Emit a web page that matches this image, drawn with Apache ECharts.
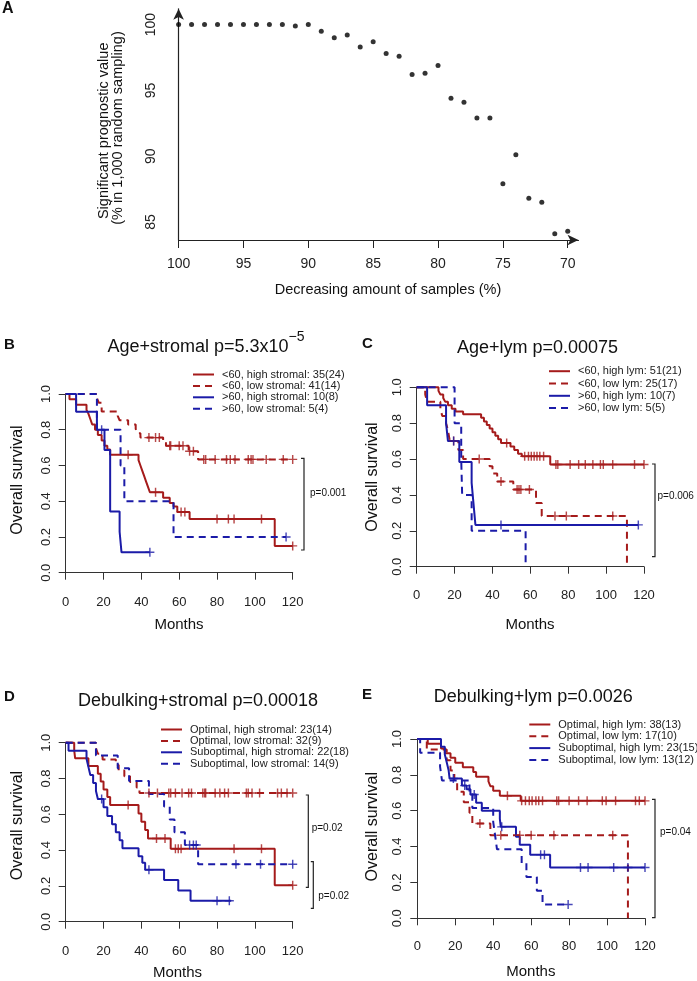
<!DOCTYPE html>
<html><head><meta charset="utf-8">
<script src="https://cdn.jsdelivr.net/npm/echarts@6/dist/echarts.min.js"></script>
<style>html,body{margin:0;padding:0;background:#fff}#c{width:697px;height:981px}</style>
</head><body><div id="c"></div><script>
// ---------- Panel A data ----------
const aSampleAmount = [100,99,98,97,96,95,94,93,92,91,90,89,88,87,86,85,84,83,82,81,80,79,78,77,76,75,74,73,72,71,70];
const aPrognosticValue = [100,100,100,100,100,100,100,100,100,99.9,100,99.5,99.0,99.2,98.3,98.7,97.8,97.6,96.2,96.3,96.9,94.4,94.1,92.9,92.9,87.9,90.1,86.8,86.5,84.1,84.3];
const aXTicks = [100,95,90,85,80,75,70];
const aYTicks = [85,90,95,100];

// ---------- KM axes ----------
const kmMonthTicks = [0,20,40,60,80,100,120];
const kmSurvTicks = [0,0.2,0.4,0.6,0.8,1.0];

// ---------- Panel B: Age + stromal ----------
const bNames = ['<60, high stromal: 35(24)','<60, low stromal: 41(14)','>60, high stromal: 10(8)','>60, low stromal: 5(4)'];
const bYoungHigh = [[0,1],[2,0.97],[5.5,0.94],[11,0.91],[12,0.89],[13,0.86],[14,0.83],[15.5,0.80],[17,0.77],[19,0.74],[20.5,0.71],[22,0.69],[23.5,0.66],[38.5,0.63],[39.5,0.60],[40.5,0.57],[41.5,0.54],[42.5,0.51],[43.5,0.48],[44.5,0.45],[51.5,0.42],[55,0.39],[57,0.37],[59,0.34],[65.5,0.30],[110.5,0.15],[120,0.15]];
const bYoungHighCens = [[33,0.66],[47.5,0.45],[61,0.34],[63,0.34],[80,0.30],[86,0.30],[89,0.30],[103.5,0.30],[120,0.15]];
const bYoungLow = [[0,1],[16.5,0.976],[17.5,0.951],[19,0.902],[27.5,0.878],[28.5,0.853],[33,0.829],[37,0.805],[38,0.78],[39.5,0.756],[51.5,0.73],[53,0.71],[65,0.68],[70,0.634],[120,0.634]];
const bYoungLowCens = [[44,0.756],[47.5,0.756],[49.5,0.756],[55,0.71],[55.5,0.71],[60,0.71],[62,0.71],[65.5,0.68],[67.5,0.68],[73,0.634],[74,0.634],[79,0.634],[85,0.634],[87,0.634],[89.5,0.634],[96.5,0.634],[98,0.634],[99,0.634],[106,0.634],[115,0.634],[120,0.634]];
const bOldHigh = [[0,1],[5.5,0.9],[16.5,0.8],[20.5,0.686],[23.5,0.343],[28.5,0.229],[29.5,0.114],[44.5,0.114]];
const bOldHighCens = [[19,0.8],[44.5,0.114]];
const bOldLow = [[0,1],[16.5,0.8],[29,0.6],[31,0.4],[57,0.2],[116.5,0.2]];
const bOldLowCens = [[116.5,0.2]];

// ---------- Panel C: Age + lym ----------
const cNames = ['<60, high lym: 51(21)','<60, low lym: 25(17)','>60, high lym: 10(7)','>60, low lym: 5(5)'];
const cYoungHigh = [[0,1],[11.5,0.98],[12.5,0.96],[14,0.94],[15,0.92],[16.5,0.90],[18.5,0.88],[20.5,0.865],[24.5,0.85],[34,0.83],[35.5,0.81],[37,0.79],[38.5,0.77],[40,0.75],[41.5,0.73],[43,0.71],[44.5,0.69],[49.5,0.67],[51.5,0.65],[53.5,0.63],[55.5,0.615],[70.5,0.57],[120,0.57]];
const cYoungHighCens = [[47.5,0.69],[57,0.615],[59,0.615],[60.5,0.615],[62,0.615],[63.5,0.615],[65,0.615],[67,0.615],[73.5,0.57],[74.5,0.57],[81,0.57],[85.5,0.57],[89,0.57],[93,0.57],[97,0.57],[98.5,0.57],[103.5,0.57],[115,0.57],[120,0.57]];
const cYoungLow = [[0,1],[4.5,0.96],[5.5,0.92],[12.5,0.88],[13.5,0.84],[15.5,0.80],[16.5,0.76],[17.5,0.70],[22,0.65],[24.5,0.60],[38.5,0.56],[40,0.52],[42.5,0.475],[51,0.43],[63,0.355],[66,0.283],[111,0]];
const cYoungLowCens = [[19.5,0.70],[33,0.60],[44.5,0.475],[53,0.43],[54,0.43],[55,0.43],[59.5,0.43],[73,0.283],[79,0.283],[103.5,0.283]];
const cOldHigh = [[0,1],[5.5,0.9],[15.5,0.8],[16.5,0.7],[22.5,0.583],[29,0.467],[30,0.35],[31,0.233],[117,0.233]];
const cOldHighCens = [[19.5,0.7],[44.5,0.233],[117,0.233]];
const cOldLow = [[0,1],[20,0.8],[23.5,0.6],[24,0.4],[29,0.2],[57.5,0]];
const cOldLowCens = [];

// ---------- Panel D: Debulking + stromal ----------
const dNames = ['Optimal, high stromal: 23(14)','Optimal, low stromal: 32(9)','Suboptimal, high stromal: 22(18)','Suboptimal, low stromal: 14(9)'];
const dOptHigh = [[0,1],[4.5,0.957],[5,0.913],[12,0.87],[17,0.826],[18.5,0.783],[20,0.739],[22,0.696],[23.5,0.652],[38.5,0.605],[40,0.558],[42,0.512],[43.5,0.465],[55.5,0.407],[110.5,0.204],[120,0.204]];
const dOptHighCens = [[33,0.652],[48,0.465],[52.5,0.465],[58,0.407],[59.5,0.407],[61,0.407],[89,0.407],[103.5,0.407],[120,0.204]];
const dOptLow = [[0,1],[16,0.969],[17,0.938],[19.5,0.906],[26.5,0.875],[28,0.844],[31,0.813],[34,0.781],[37.5,0.75],[39,0.719],[120,0.719]];
const dOptLowCens = [[44,0.719],[48.5,0.719],[54.5,0.719],[55.5,0.719],[58,0.719],[61.5,0.719],[65,0.719],[66.5,0.719],[72.5,0.719],[73.5,0.719],[74,0.719],[79,0.719],[81.5,0.719],[84,0.719],[86,0.719],[95.5,0.719],[96.5,0.719],[98.5,0.719],[102.5,0.719],[112,0.719],[114,0.719],[117,0.719],[120,0.719]];
const dSubHigh = [[0,1],[1.5,0.955],[11,0.91],[12,0.865],[13,0.82],[14.5,0.775],[16,0.73],[17,0.685],[20,0.64],[22,0.59],[24.5,0.545],[26.5,0.50],[28.5,0.455],[30,0.41],[38.5,0.365],[40.5,0.33],[42,0.29],[52,0.233],[59.5,0.175],[66,0.117],[87.5,0.117]];
const dSubHighCens = [[19,0.685],[44,0.29],[80,0.117],[86.5,0.117]];
const dSubLow = [[0,1],[16,0.929],[27.5,0.857],[33.5,0.786],[44,0.714],[52,0.643],[55,0.571],[57.5,0.50],[63,0.429],[70,0.321],[120,0.321]];
const dSubLowCens = [[65.5,0.429],[67.5,0.429],[69,0.429],[90,0.321],[103,0.321],[120,0.321]];

// ---------- Panel E: Debulking + lym ----------
const eNames = ['Optimal, high lym: 38(13)','Optimal, low lym: 17(10)','Suboptimal, high lym: 23(15)','Suboptimal, low lym: 13(12)'];
const eOptHigh = [[0,1],[5.5,0.974],[12.5,0.947],[14.5,0.921],[17.5,0.895],[20,0.868],[24,0.842],[29.5,0.816],[31,0.789],[37.5,0.763],[38.5,0.737],[40,0.711],[43.5,0.684],[54.5,0.655],[120,0.655]];
const eOptHighCens = [[47.5,0.684],[55,0.655],[57,0.655],[59,0.655],[60.5,0.655],[62.5,0.655],[64,0.655],[66,0.655],[73.5,0.655],[74.5,0.655],[80,0.655],[85,0.655],[89.5,0.655],[97.5,0.655],[99.5,0.655],[104.5,0.655],[115,0.655],[117,0.655],[120,0.655]];
const eOptLow = [[0,1],[5,0.941],[15.5,0.882],[17.5,0.824],[19.5,0.765],[21,0.706],[24.5,0.647],[27.5,0.588],[29,0.529],[38.5,0.463],[111,0]];
const eOptLowCens = [[33,0.529],[44,0.463],[54,0.463],[60,0.463],[72,0.463],[103,0.463]];
const eSubHigh = [[0,1],[12.5,0.957],[14.5,0.913],[15.5,0.87],[16.5,0.826],[17,0.78],[23.5,0.74],[26,0.72],[28,0.69],[31,0.645],[34,0.60],[43.5,0.555],[44,0.51],[52,0.455],[54,0.41],[59.5,0.355],[70,0.283],[120,0.283]];
const eSubHighCens = [[19,0.78],[25,0.74],[30,0.69],[44.5,0.51],[65,0.355],[67,0.355],[86,0.283],[90,0.283],[103.5,0.283],[111,0.283],[120,0.283]];
const eSubLow = [[0,1],[1.5,0.923],[12,0.846],[13,0.769],[27.5,0.692],[29,0.615],[40,0.538],[41,0.462],[42,0.385],[55,0.308],[57.5,0.231],[63,0.154],[66,0.077],[79.5,0.077]];
const eSubLowCens = [[79.5,0.077]];

// ---------- styling / layout ----------
const RED = '#A51B1B', BLUE = '#1B1BA8', AX = '#333';
const FONT = '"Liberation Sans", Arial, Helvetica, sans-serif';
const PLUS = 'path://M4.2,0H5.8V4.2H10V5.8H5.8V10H4.2V5.8H0V4.2H4.2Z';
const DASH = [7,5];

const panels = [
  {grid:{left:65.7, top:394, width:227, height:178.7}, off:9, legend:{left:192, top:369, gap:0.4}, names:bNames,
   curves:[[bYoungHigh,bYoungHighCens,RED,false],[bYoungLow,bYoungLowCens,RED,true],[bOldHigh,bOldHighCens,BLUE,false],[bOldLow,bOldLowCens,BLUE,true]]},
  {grid:{left:416.7, top:387.3, width:227.3, height:179.4}, off:8.3, legend:{left:548, top:365.7, gap:1.3}, names:cNames,
   curves:[[cYoungHigh,cYoungHighCens,RED,false],[cYoungLow,cYoungLowCens,RED,true],[cOldHigh,cOldHighCens,BLUE,false],[cOldLow,cOldLowCens,BLUE,true]]},
  {grid:{left:65.7, top:742.7, width:227, height:179}, off:9, legend:{left:160, top:724, gap:0.4}, names:dNames,
   curves:[[dOptHigh,dOptHighCens,RED,false],[dOptLow,dOptLowCens,RED,true],[dSubHigh,dSubHighCens,BLUE,false],[dSubLow,dSubLowCens,BLUE,true]]},
  {grid:{left:417.3, top:739, width:227.7, height:179.3}, off:7.7, legend:{left:528.3, top:719, gap:0.8}, names:eNames,
   curves:[[eOptHigh,eOptHighCens,RED,false],[eOptLow,eOptLowCens,RED,true],[eSubHigh,eSubHighCens,BLUE,false],[eSubLow,eSubLowCens,BLUE,true]]}
];

const grids = [{left:178.6, top:8.8, width:399.9, height:231.2}];
const xAxes = [{
  gridIndex:0, type:'value', inverse:true, min:69.17, max:100,
  axisLine:{show:true, symbol:['none','arrow'], symbolSize:[8,11], lineStyle:{color:'#222', width:1.2}},
  axisTick:{show:true, customValues:aXTicks, length:8, lineStyle:{color:'#222'}},
  axisLabel:{customValues:aXTicks, fontSize:14, color:'#222', margin:17, fontFamily:FONT},
  splitLine:{show:false}
}];
const yAxes = [{
  gridIndex:0, type:'value', min:83.63, max:101.2,
  axisLine:{show:true, symbol:['none','arrow'], symbolSize:[8,11], lineStyle:{color:'#222', width:1.2}},
  axisTick:{show:false},
  axisLabel:{customValues:aYTicks, rotate:90, fontSize:14, color:'#222', margin:20, fontFamily:FONT},
  splitLine:{show:false}
}];
const series = [{
  type:'scatter', xAxisIndex:0, yAxisIndex:0, symbolSize:5, itemStyle:{color:'#000'},
  data: aSampleAmount.map((x,i)=>[x, aPrognosticValue[i]]), animation:false
}];
const legends = [];

panels.forEach((p, k) => {
  const gi = k + 1;
  grids.push(p.grid);
  xAxes.push({gridIndex:gi, type:'value', min:0, max:120, interval:20, offset:p.off,
    axisLine:{show:true, lineStyle:{color:AX, width:1}},
    axisTick:{show:true, length:7, lineStyle:{color:AX}},
    axisLabel:{fontSize:13, color:'#222', margin:14, fontFamily:FONT, customValues:kmMonthTicks},
    splitLine:{show:false}});
  yAxes.push({gridIndex:gi, type:'value', min:0, max:1, interval:0.2,
    axisLine:{show:true, lineStyle:{color:AX, width:1}},
    axisTick:{show:true, length:7, lineStyle:{color:AX}},
    axisLabel:{rotate:90, fontSize:13, color:'#222', margin:13, fontFamily:FONT, formatter:v=>v.toFixed(1)},
    splitLine:{show:false}});
  p.curves.forEach((c, j) => {
    const [steps, cens, color, dashed] = c;
    series.push({type:'line', name:p.names[j], xAxisIndex:gi, yAxisIndex:gi, data:steps, step:'end',
      symbol:'none', showSymbol:false, clip:false, animation:false, z:3,
      lineStyle:{color, width:2, type: dashed ? DASH : 'solid'}, itemStyle:{color}});
    if (cens.length) series.push({type:'scatter', name:p.names[j] + ' (censored)', xAxisIndex:gi, yAxisIndex:gi,
      data:cens, symbol:PLUS, symbolSize:9, itemStyle:{color}, animation:false, z:4, clip:false});
  });
  legends.push({data:p.names, orient:'vertical', left:p.legend.left, top:p.legend.top, padding:0,
    itemWidth:21, itemHeight:12, itemGap:p.legend.gap, selectedMode:false,
    itemStyle:{color:'transparent', borderWidth:0, borderColor:'transparent'},
    textStyle:{fontSize:11, color:'#222', fontFamily:FONT, padding:[0,0,0,3]}});
});

function txt(x, y, text, size, opts) {
  opts = opts || {};
  return {type:'text', x, y, rotation: opts.rot || 0, silent:true, z:10,
    style:{text, fill: opts.color || '#111', font: (opts.bold ? 'bold ' : '') + size + 'px ' + FONT,
      textAlign: opts.align || 'center', textVerticalAlign:'middle'}};
}
function richTitle(x, y, main, sup) {
  return {type:'text', x, y, silent:true, z:10,
    style:{text: sup ? '{a|' + main + '}{b|' + sup + '}' : '{a|' + main + '}', textAlign:'center', textVerticalAlign:'middle',
      rich:{a:{fontSize:18, lineHeight:26, verticalAlign:'bottom', fontFamily:FONT, fill:'#111'},
            b:{fontSize:14, lineHeight:14, verticalAlign:'top', fontFamily:FONT, fill:'#111'}}}};
}
function bracket(x, y1, y2, tick) {
  return {type:'polyline', silent:true, z:10, shape:{points:[[x - tick, y1],[x, y1],[x, y2],[x - tick, y2]]},
    style:{stroke:'#222', lineWidth:1.2, fill:null}};
}
const HALF = Math.PI / 2;
const graphic = [
  txt(2, 9, 'A', 16, {bold:true, align:'left'}),
  txt(103.6, 130.8, 'Significant prognostic value', 14.5, {rot:HALF}),
  txt(117.9, 128, '(% in 1,000 random sampling)', 14.5, {rot:HALF}),
  txt(388, 290, 'Decreasing amount of samples (%)', 14.5),

  txt(4, 345, 'B', 15, {bold:true, align:'left'}),
  richTitle(206, 343, 'Age+stromal p=5.3x10', '\u22125'),
  txt(17.5, 480, 'Overall survival', 16, {rot:HALF}),
  txt(179, 625, 'Months', 15),
  bracket(304, 458.3, 550, 3), txt(310, 493, 'p=0.001', 10, {align:'left'}),

  txt(362, 344, 'C', 15, {bold:true, align:'left'}),
  richTitle(537.5, 344, 'Age+lym p=0.00075'),
  txt(372.5, 477, 'Overall survival', 16, {rot:HALF}),
  txt(530, 625, 'Months', 15),
  bracket(655, 464, 556.7, 3), txt(657.5, 496.7, 'p=0.006', 10, {align:'left'}),

  txt(4, 696.7, 'D', 15, {bold:true, align:'left'}),
  richTitle(198, 696.7, 'Debulking+stromal p=0.00018'),
  txt(17.5, 825.5, 'Overall survival', 16, {rot:HALF}),
  txt(177.5, 972.5, 'Months', 15),
  bracket(308.3, 795, 887.3, 2.5), txt(311.7, 828.3, 'p=0.02', 10, {align:'left'}),
  bracket(313.3, 861.7, 908.3, 2.5), txt(318.3, 896, 'p=0.02', 10, {align:'left'}),

  txt(362, 695, 'E', 15, {bold:true, align:'left'}),
  richTitle(533.3, 693.3, 'Debulking+lym p=0.0026'),
  txt(372.5, 826.7, 'Overall survival', 16, {rot:HALF}),
  txt(530.8, 971.7, 'Months', 15),
  bracket(655, 799.3, 917.7, 3), txt(660, 832.7, 'p=0.04', 10, {align:'left'})
];

const chart = echarts.init(document.getElementById('c'), null, {renderer:'canvas'});
chart.setOption({
  backgroundColor:'#fff', animation:false,
  textStyle:{fontFamily:FONT},
  grid:grids, xAxis:xAxes, yAxis:yAxes, series, legend:legends, graphic
});
</script></body></html>
